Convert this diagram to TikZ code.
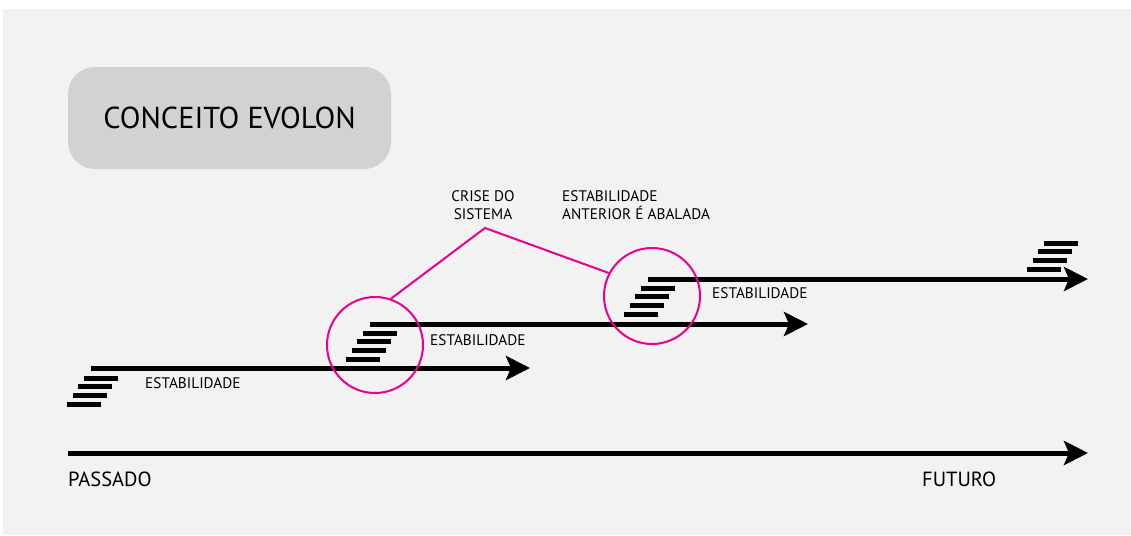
\documentclass[tikz,border=0pt]{standalone}
\usepackage{fontspec}
\setmainfont{PT Sans}
\usetikzlibrary{arrows.meta}
\definecolor{panel}{HTML}{F2F2F2}
\definecolor{titlebox}{HTML}{D1D2D4}
\definecolor{crisis}{HTML}{EC008C}

\begin{document}
\begin{tikzpicture}
      [x=1pt,y=-1pt,
       timeline/.style={line width=5pt,-{Stealth[length=24pt,width=24pt,inset=5pt]}},
       lbl/.style={font=\fontsize{15.3}{18}\selectfont,inner sep=0pt},
       endlbl/.style={font=\fontsize{20.5}{24}\selectfont,inner sep=0pt},
       ring/.style={draw=crisis,line width=2pt,circle,minimum size=96pt,inner sep=0pt}]

      \tikzstyle{stairbar} = [line width=5pt]

      \useasboundingbox (0,0) rectangle (1131,535);
      \fill[white] (0,0) rectangle (1131,535);
      \fill[panel] (3,9) rectangle (1131,535);

      \node[fill=titlebox,rounded corners=27pt,minimum width=323pt,minimum height=102pt,
            font=\fontsize{30.3}{34}\selectfont] (title) at (229.5,118) {CONCEITO EVOLON};

      % steps of each stage
      \foreach \sx/\sy in {84/378,363/333,641/288,1044/243}
        \foreach \i in {0,...,3}
          \draw[stairbar] ({\sx-5.6*\i},{\sy+8.9*\i}) -- ++(34,0);

      \coordinate (s1) at (91,368);   \coordinate (e1) at (530,368);
      \coordinate (s2) at (370,324);  \coordinate (e2) at (808,324);
      \coordinate (s3) at (648,279);  \coordinate (e3) at (1088,279);
      \coordinate (past) at (68,453); \coordinate (future) at (1088,453);

      \draw[timeline] (s1) -- (e1);
      \draw[timeline] (s2) -- (e2);
      \draw[timeline] (s3) -- (e3);
      \draw[timeline] (past) -- (future);

      \node[lbl,anchor=west] (stab1) at (145,383) {ESTABILIDADE};
      \node[lbl,anchor=west] (stab2) at (430,340) {ESTABILIDADE};
      \node[lbl,anchor=west] (stab3) at (712,293) {ESTABILIDADE};
      \node[endlbl,anchor=west] (pastlbl) at (68,479) {PASSADO};
      \node[endlbl,anchor=west] (futurelbl) at (922,479) {FUTURO};
      \node[lbl,align=center] (crise) at (483,205) {CRISE DO\\SISTEMA};
      \node[lbl,align=left,anchor=west] (abalada) at (562,205) {ESTABILIDADE\\ANTERIOR É ABALADA};

      \node[ring] (ring1) at (375,345) {};
      \node[ring] (ring2) at (652,296) {};
      \coordinate (apex) at (485,228);
      \draw[crisis,line width=2pt] (ring1.71) -- (apex) -- (ring2.152);
    \end{tikzpicture}
\end{document}
